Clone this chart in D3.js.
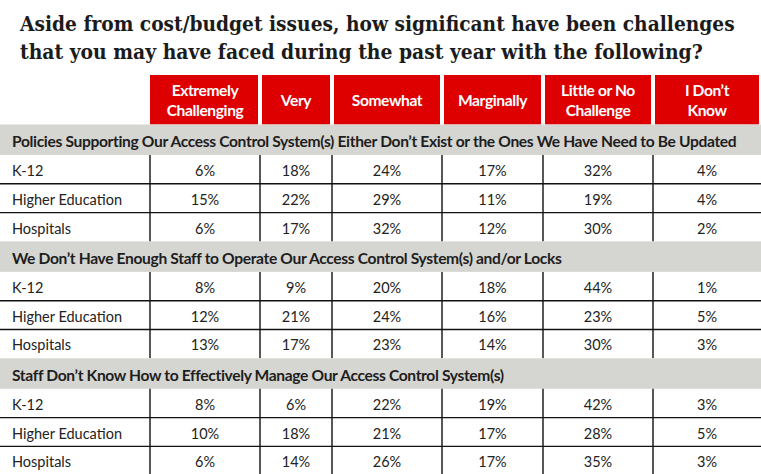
<!DOCTYPE html>
<html>
<head>
<meta charset="utf-8">
<script src="https://cdn.jsdelivr.net/npm/d3@7"></script>
<style>
  html, body { margin: 0; padding: 0; background: #fff; }
  svg { display: block; }
</style>
</head>
<body>
<svg id="chart" width="761" height="474"></svg>
<script>
// question asked in the survey
const titleLines = [
  "Aside from cost/budget issues, how significant have been challenges",
  "that you may have faced during the past year with the following?"
];

const columns = [
  ["Extremely", "Challenging"],
  ["Very"],
  ["Somewhat"],
  ["Marginally"],
  ["Little or No", "Challenge"],
  ["I Don\u2019t", "Know"]
];

const groups = ["K-12", "Higher Education", "Hospitals"];

const sections = [
  "Policies Supporting Our Access Control System(s) Either Don\u2019t Exist or the Ones We Have Need to Be Updated",
  "We Don\u2019t Have Enough Staff to Operate Our Access Control System(s) and/or Locks",
  "Staff Don\u2019t Know How to Effectively Manage Our Access Control System(s)"
];

// % per group, one array per section (rows = groups, cols = columns)
const policies = [
  [6, 18, 24, 17, 32, 4],
  [15, 22, 29, 11, 19, 4],
  [6, 17, 32, 12, 30, 2]
];
const staffing = [
  [8, 9, 20, 18, 44, 1],
  [12, 21, 24, 16, 23, 5],
  [13, 17, 23, 14, 30, 3]
];
const training = [
  [8, 6, 22, 19, 42, 3],
  [10, 18, 21, 17, 28, 5],
  [6, 14, 26, 17, 35, 3]
];
const sectionValues = [policies, staffing, training];

const width = 761;
const svg = d3.select("#chart");

// column edges (first col is the row labels)
const edges = [0, 150, 260, 332, 442, 543, 653, 761];
const colLeft = d3.scaleOrdinal().domain(d3.range(columns.length)).range(edges.slice(1, -1));
const colRight = d3.scaleOrdinal().domain(d3.range(columns.length)).range(edges.slice(2));
const colMid = i => (colLeft(i) + colRight(i)) / 2;

const headerTop = 75, headerBottom = 124.5;
const sectionH = 30.5, rowH = 28.8;
const blockH = sectionH + rowH * groups.length;
const yBlock = d3.scaleLinear().domain([0, 1]).range([headerBottom, headerBottom + blockH]);

// title - squeeze horizontally to the reference line widths
const titleWidths = [715, 683];
const title = svg.append("g");
title.selectAll("text")
  .data(titleLines)
  .join("text")
  .style("font-family", "'DejaVu Serif', serif")
  .style("font-weight", "bold")
  .style("font-size", "21px")
  .style("fill", "#1b1b1b")
  .text(d => d)
  .each(function (d, i) {
    const len = this.getComputedTextLength();
    const k = Math.min(1, titleWidths[i] / len);
    d3.select(this).attr("transform", `translate(20,${31 + i * 28}) scale(${k},1)`);
  });

// red header boxes
const head = svg.append("g");
const hcell = head.selectAll("g")
  .data(columns)
  .join("g");
hcell.append("rect")
  .attr("x", (d, i) => i === 0 ? colLeft(i) : colLeft(i) + 2)
  .attr("width", (d, i) => colRight(i) - colLeft(i) - (i === 0 ? 2 : 4))
  .attr("y", headerTop)
  .attr("height", headerBottom - headerTop)
  .attr("fill", "#de0000");
hcell.selectAll("text")
  .data((d, i) => d.map((t, j) => ({ t, j, n: d.length, i })))
  .join("text")
  .attr("x", d => colMid(d.i))
  .attr("y", d => (headerTop + headerBottom) / 2 + (d.j - (d.n - 1) / 2) * 20)
  .attr("text-anchor", "middle")
  .attr("dominant-baseline", "central")
  .style("font-family", "Lato, sans-serif")
  .style("font-weight", "bold")
  .style("font-size", "15.6px")
  .style("letter-spacing", "-0.4px")
  .style("fill", "#fff")
  .text(d => d.t);

// body blocks
const body = svg.append("g");
sections.forEach((sec, s) => {
  const top = yBlock(s);
  const g = body.append("g");

  g.append("rect")
    .attr("x", 0).attr("width", width)
    .attr("y", top).attr("height", sectionH)
    .attr("fill", "#d5d5d1");
  g.append("text")
    .attr("x", 12)
    .attr("y", top + sectionH / 2 + 1)
    .attr("dominant-baseline", "central")
    .style("font-family", "Lato, sans-serif")
    .style("font-weight", "bold")
    .style("font-size", "15.6px")
    .style("letter-spacing", "-0.35px")
    .style("fill", "#1e1e1e")
    .text(sec);

  const rowsTop = top + sectionH;
  const yRow = d3.scaleBand().domain(groups).range([rowsTop, rowsTop + rowH * groups.length]);

  // grid lines
  g.selectAll("line.v")
    .data(edges.slice(1, -1))
    .join("line")
    .attr("class", "v")
    .attr("x1", d => d).attr("x2", d => d)
    .attr("y1", rowsTop).attr("y2", rowsTop + rowH * groups.length)
    .attr("stroke", "#111").attr("stroke-width", 1.4);
  g.selectAll("line.h")
    .data(groups.slice(1))
    .join("line")
    .attr("class", "h")
    .attr("x1", 0).attr("x2", width)
    .attr("y1", d => yRow(d)).attr("y2", d => yRow(d))
    .attr("stroke", "#111").attr("stroke-width", 1.4);

  const rows = g.selectAll("g.row")
    .data(groups.map((grp, r) => ({ grp, vals: sectionValues[s][r] })))
    .join("g")
    .attr("class", "row")
    .attr("transform", d => `translate(0,${yRow(d.grp) + rowH / 2 + 1})`);

  rows.append("text")
    .attr("x", 12)
    .attr("dominant-baseline", "central")
    .style("font-family", "Lato, sans-serif")
    .style("font-size", "14.5px")
    .style("fill", "#222")
    .text(d => d.grp);

  rows.selectAll("text.val")
    .data(d => d.vals)
    .join("text")
    .attr("class", "val")
    .attr("x", (v, i) => colMid(i))
    .attr("text-anchor", "middle")
    .attr("dominant-baseline", "central")
    .style("font-family", "Lato, sans-serif")
    .style("font-size", "14.5px")
    .style("fill", "#222")
    .text(v => v + "%");
});
</script>
</body>
</html>
